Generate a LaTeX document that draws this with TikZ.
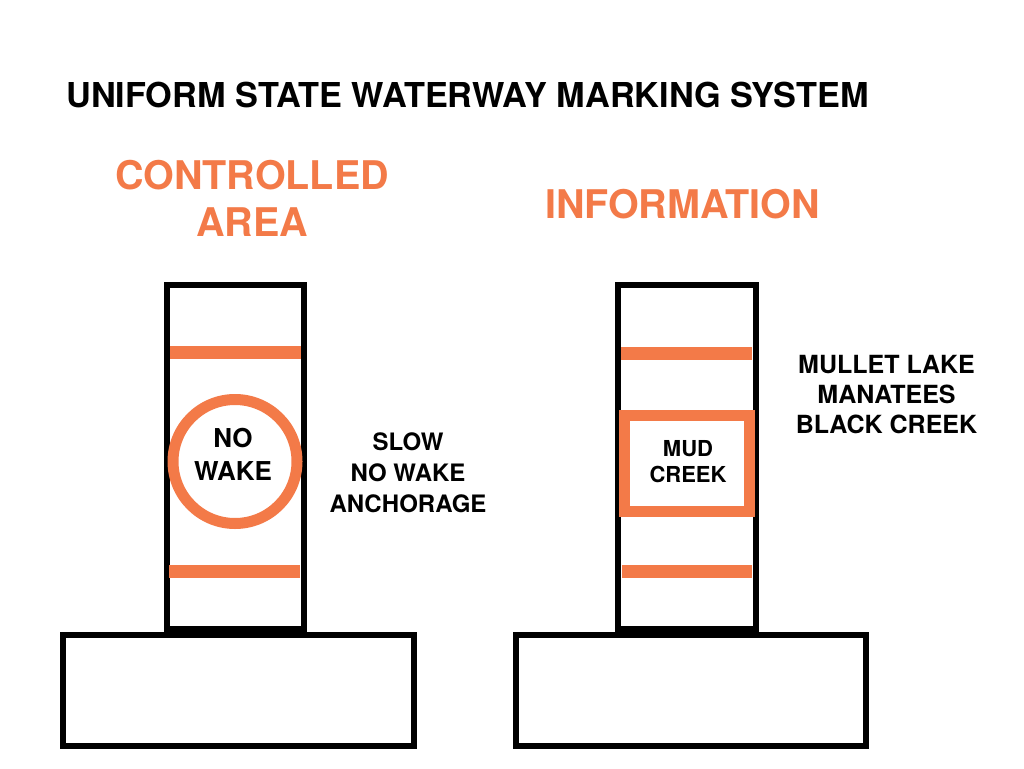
\documentclass[tikz,border=0pt]{standalone}
\usepackage{fontspec}
\setmainfont{TeX Gyre Heros}
\usepackage{tikz}
\definecolor{buoyorange}{RGB}{243,122,72}
\newcommand{\fsz}[2]{\fontsize{#1}{#2}\selectfont\bfseries}

\begin{document}
\begin{tikzpicture}[x=1pt,y=-1pt,
		post/.style={draw=black,line width=6pt},
		band/.style={draw=buoyorange,line width=13pt},
		signmark/.style={draw=buoyorange,line width=11pt},
		lbl/.style={align=center,inner sep=0pt}]
					\useasboundingbox (0,0) rectangle (1024,768);
					% left post and base
					\draw[post] (63,635) rectangle (414,746);
					\draw[post] (166.5,285) rectangle (303.5,628.5);
					\draw[band] (170,352.5) -- (301,352.5);
					\draw[band] (169,571.5) -- (300,571.5);
					\draw[signmark] (235,461.5) circle (62);
					% right post and base
					\draw[post] (516,635) rectangle (866,746);
					\draw[post] (618,285) rectangle (756,628.5);
					\draw[band] (621,353) -- (752,353);
					\draw[band] (622,571.5) -- (752,571.5);
					\draw[signmark] (624.5,415) rectangle (749.5,511.5);
					% texts
					\node[lbl,font=\fsz{34.3}{40}] (title) at (467.5,95) {UNIFORM STATE WATERWAY MARKING SYSTEM};
					\node[lbl,text=buoyorange,font=\fsz{39.5}{47}] (ctrl) at (252,198) {CONTROLLED\\AREA};
					\node[lbl,text=buoyorange,font=\fsz{39.5}{47}] (info) at (682.5,204) {INFORMATION};
					\node[lbl,font=\fsz{26}{33}] (nowake) at (233,454) {NO\\WAKE};
					\node[lbl,font=\fsz{24}{31}] (slow) at (408,472.5) {SLOW\\NO WAKE\\ANCHORAGE};
					\node[lbl,font=\fsz{22}{26}] (mud) at (688,462) {MUD\\CREEK};
					\node[lbl,font=\fsz{25}{30}] (places) at (886.5,394.5) {MULLET LAKE\\MANATEES\\BLACK CREEK};
				\end{tikzpicture}
\end{document}
